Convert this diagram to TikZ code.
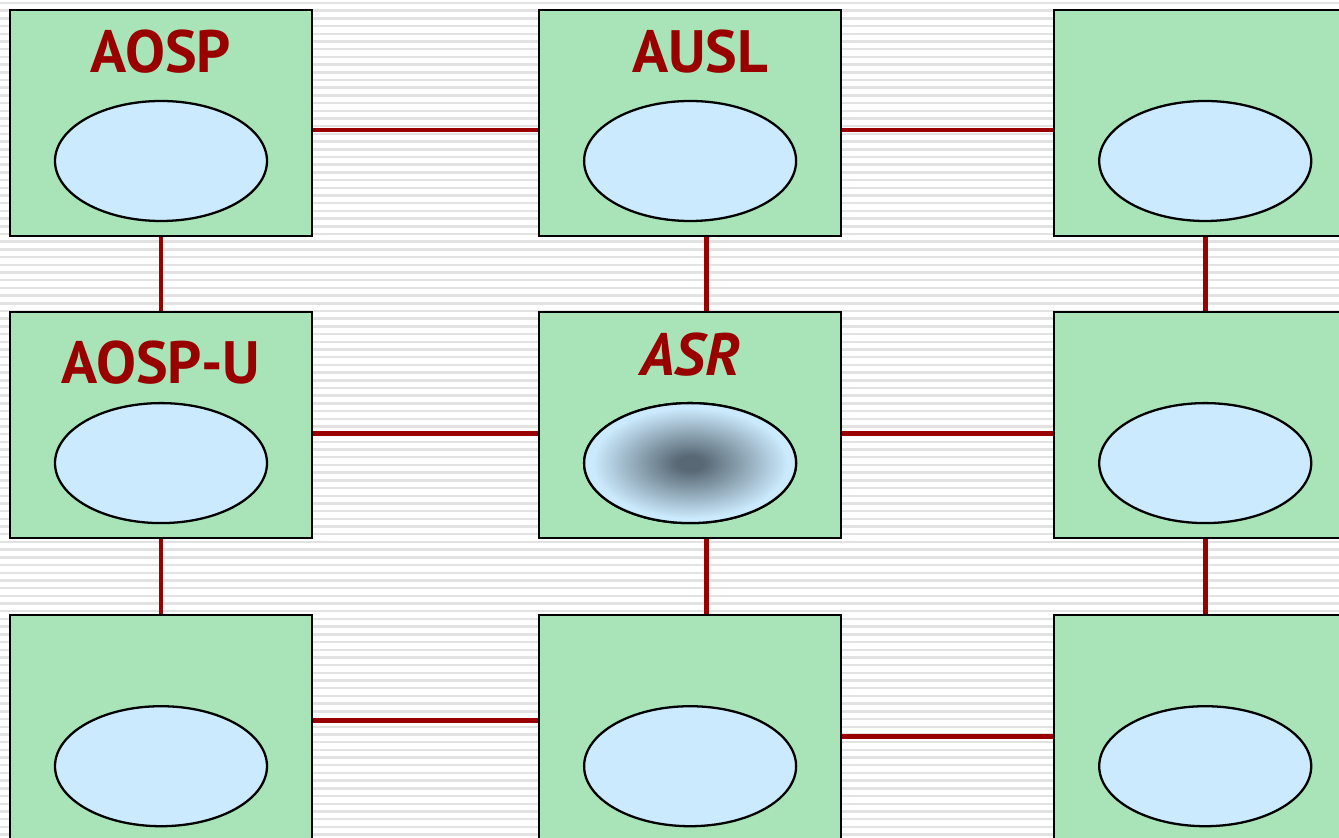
\documentclass[tikz,border=0pt]{standalone}
\usepackage{fontspec}
\setmainfont{PT Sans}
\usetikzlibrary{positioning,shapes.geometric}

\definecolor{boxgreen}{RGB}{168,228,184}
\definecolor{ellblue}{RGB}{203,234,253}
\definecolor{linkred}{RGB}{153,0,0}
\definecolor{asrdark}{RGB}{88,104,116}
\definecolor{stripegray}{RGB}{226,226,226}

\pgfdeclareradialshading{asrglow}{\pgfpoint{0bp}{0bp}}{color(0bp)=(asrdark); color(3bp)=(asrdark); color(23bp)=(ellblue); color(50bp)=(ellblue)}

\begin{document}
\begin{tikzpicture}
	\tikzstyle{block}=[rectangle, draw=black, line width=0.6pt, fill=boxgreen, minimum width=3.02cm, minimum height=2.26cm, inner sep=0pt]
	\tikzstyle{cell}=[ellipse, draw=black, line width=0.65pt, fill=ellblue, minimum width=2.12cm, minimum height=1.2cm, inner sep=0pt]
	\tikzstyle{title}=[anchor=base, text=linkred, font=\fontsize{17}{20}\selectfont\bfseries, inner sep=0pt]
	\tikzstyle{connect}=[draw=linkred, line width=1.4pt]
	\tikzstyle{stripe}=[draw=stripegray, line width=0.7pt]
	\clip (0,0) rectangle (13.39,-8.38);
	\fill[white] (0,0) rectangle (13.39,-8.38);
	\foreach \i in {0,...,109}
		\draw[stripe] (0,{-0.03-0.077*\i}) -- (13.39,{-0.03-0.077*\i});
	
	\node[block] (b11) at (1.61,-1.23) {};
	\node[block] (b12) [right=2.25cm of b11] {};
	\node[block] (b13) [right=2.11cm of b12] {};
	
	\node[block] (b21) [below=0.74cm of b11] {};
	\node[block] (b22) [below=0.74cm of b12] {};
	\node[block] (b23) [below=0.74cm of b13] {};
	
	\node[block] (b31) [below=0.75cm of b21] {};
	\node[block] (b32) [below=0.75cm of b22] {};
	\node[block] (b33) [below=0.75cm of b23] {};
	
	\foreach \r in {1,2,3}
		\foreach \c in {1,2,3}
			\node[cell] (e\r\c) at ([yshift=-0.38cm]b\r\c.center) {};
	\fill[shading=asrglow, draw=black, line width=0.65pt] (e22.center) ellipse (1.06cm and 0.6cm);
	
	\node[title] (t11) at ([yshift=-0.64cm]b11.north) {AOSP};
	\node[title] (t12) at ([xshift=0.10cm, yshift=-0.64cm]b12.north) {AUSL};
	\node[title] (t21) at ([yshift=-0.72cm]b21.north) {AOSP-U};
	\node[title] (t22) at ([yshift=-0.64cm]b22.north) {\itshape ASR};
	
	\path
	([yshift=-0.07cm]b11.east) edge [connect] ([yshift=-0.07cm]b12.west)
	([yshift=-0.07cm]b12.east) edge [connect] ([yshift=-0.07cm]b13.west)
	([yshift=-0.08cm]b21.east) edge [connect] ([yshift=-0.08cm]b22.west)
	([yshift=-0.08cm]b22.east) edge [connect] ([yshift=-0.08cm]b23.west)
	([yshift=0.08cm]b31.east)  edge [connect] ([yshift=0.08cm]b32.west)
	([yshift=-0.08cm]b32.east) edge [connect] ([yshift=-0.08cm]b33.west)
	
	(b11) edge [connect] (b21)
	([xshift=0.16cm]b12.south) edge [connect] ([xshift=0.16cm]b22.north)
	(b13) edge [connect] (b23)
	(b21) edge [connect] (b31)
	([xshift=0.16cm]b22.south) edge [connect] ([xshift=0.16cm]b32.north)
	(b23) edge [connect] (b33)
	;
	
\end{tikzpicture}
\end{document}
